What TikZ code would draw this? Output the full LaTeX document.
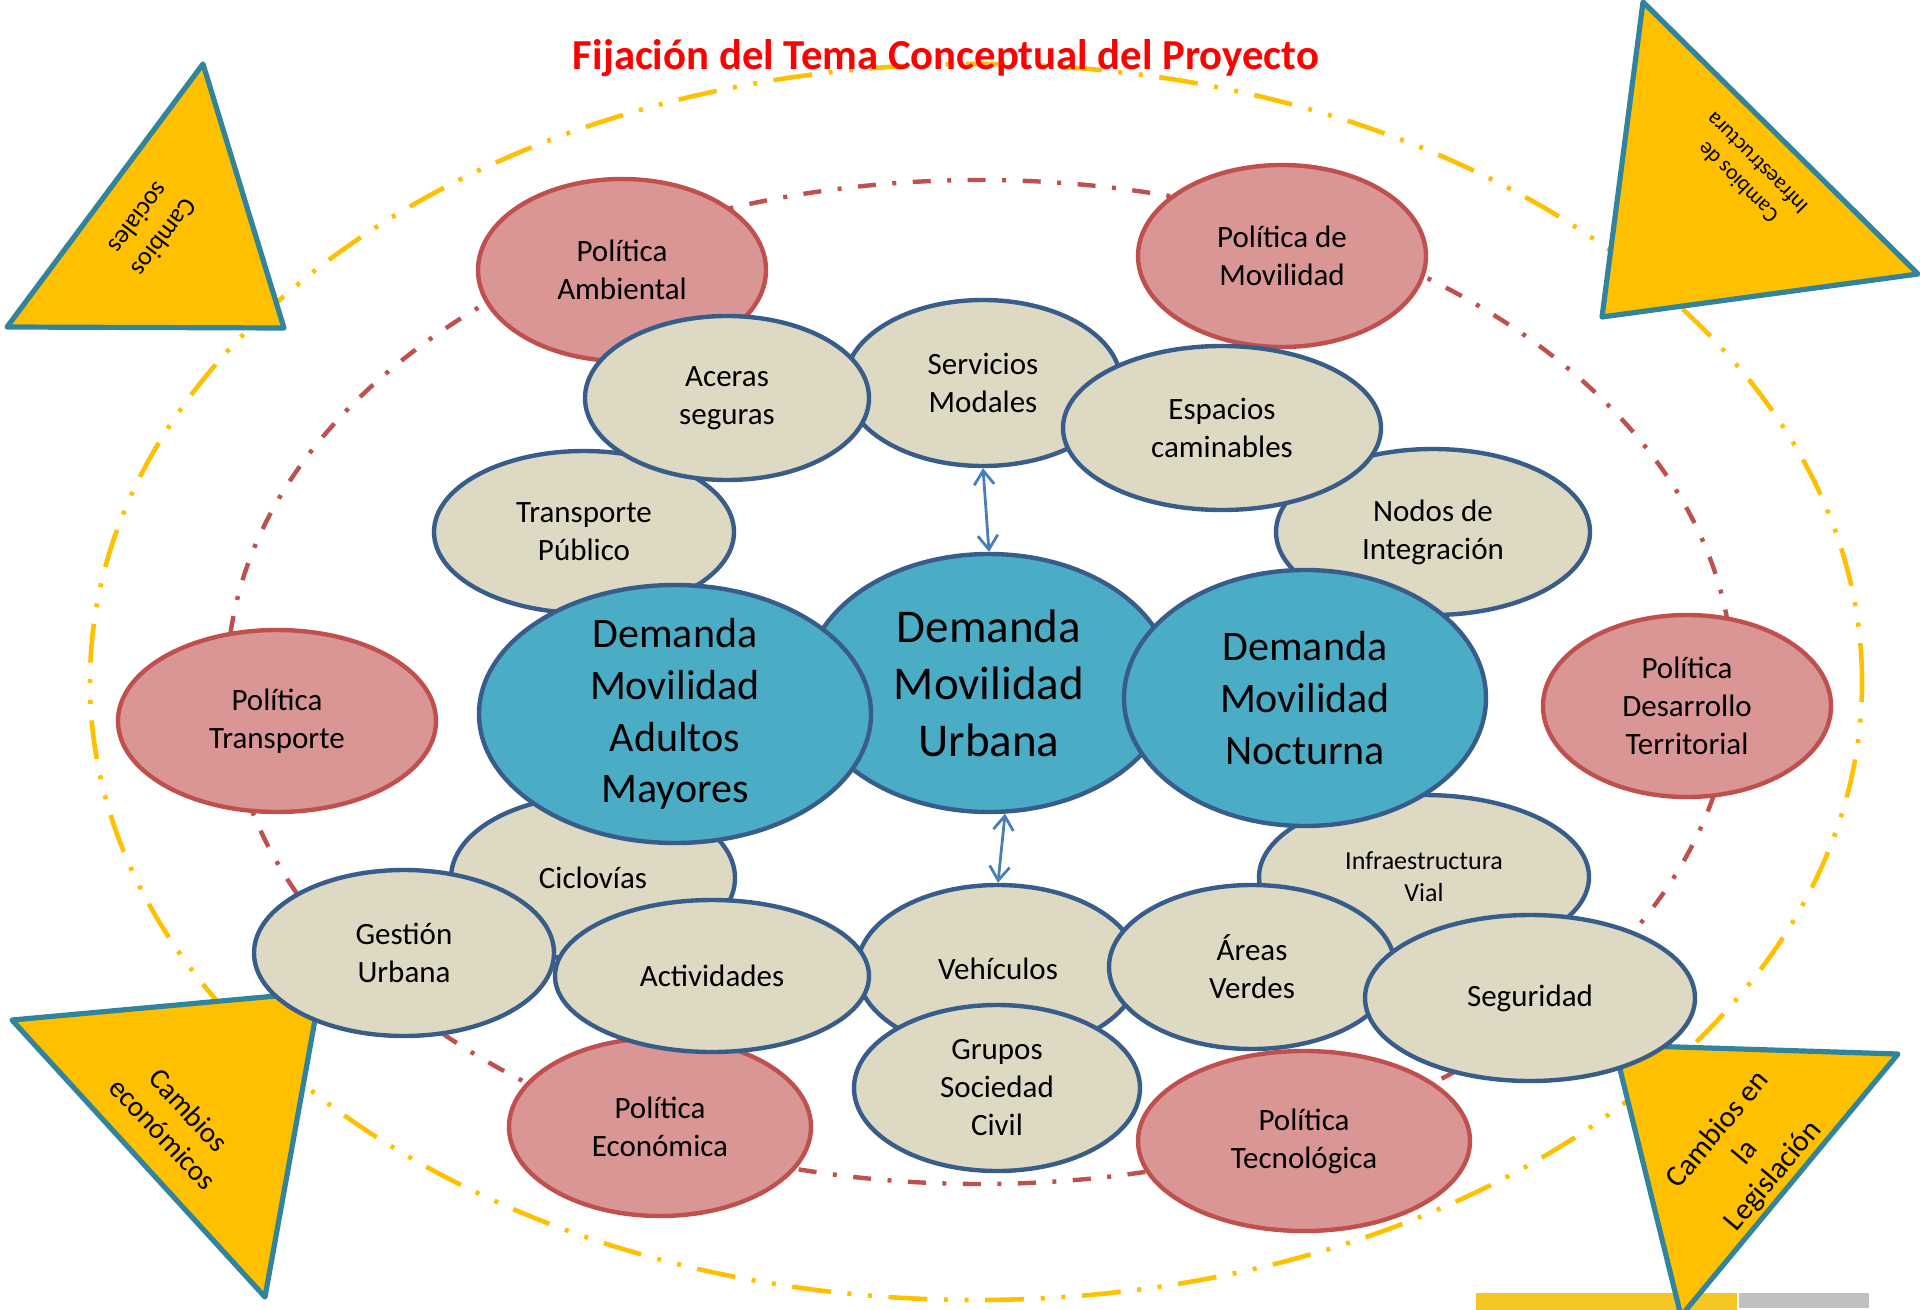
\documentclass[tikz,border=0pt]{standalone}
\usepackage{graphicx}
\usepackage{fontspec}
\setmainfont{Carlito}
\usetikzlibrary{shapes.geometric,arrows.meta}

\definecolor{polfill}{HTML}{D99694}
\definecolor{polline}{HTML}{C0504D}
\definecolor{temafill}{HTML}{DDD9C3}
\definecolor{temaline}{HTML}{385D8A}
\definecolor{demfill}{HTML}{4BACC6}
\definecolor{trifill}{HTML}{FFC000}
\definecolor{triline}{HTML}{31849B}
\definecolor{ringred}{HTML}{C0504D}
\definecolor{ringyellow}{HTML}{FFC000}
\definecolor{flechacol}{HTML}{4A7EBB}
\definecolor{baryellow}{HTML}{F4C724}
\definecolor{bargray}{HTML}{C0C0C0}

\tikzset{
  bubble/.style={ellipse, draw, line width=2.2pt, inner sep=0pt, align=center,
    font=\fontsize{15.5}{19}\selectfont},
  politica/.style={bubble, fill=polfill, draw=polline},
  tema/.style={bubble, fill=temafill, draw=temaline},
  demanda/.style={bubble, fill=demfill, draw=temaline, inner sep=-8pt,
    font=\fontsize{21}{25.8}\selectfont},
  cambio/.style={fill=trifill, draw=triline, line width=2.6pt, line join=round},
  cambiotxt/.style={align=center, font=\fontsize{14.5}{17.5}\selectfont},
  flecha/.style={draw=flechacol, line width=1.4pt, <->, >={Straight Barb[length=7pt,width=10pt]}}
}

\begin{document}
\begin{tikzpicture}[x=0.5pt, y=-0.5pt]
\useasboundingbox (0,0) rectangle (1920,1310);

% Rings
\draw[ringyellow, line width=2.3pt, dash pattern=on 19.5pt off 8.3pt on 2pt off 8.3pt on 2pt off 8.3pt]
  (976,682) ellipse [x radius=443pt, y radius=309pt];
\draw[ringred, line width=2.2pt, dash pattern=on 9pt off 8.25pt on 2pt off 8.25pt]
  (980,682) ellipse [x radius=376.5pt, y radius=251pt];

% Bars
\fill[baryellow] (1476,1293) rectangle (1737,1310);
\fill[bargray] (1739,1293) rectangle (1869,1308);

% Triangles
\filldraw[cambio] (203,64) -- (7,327) -- (284,328) -- cycle;
\node[cambiotxt, rotate=-127, font=\fontsize{13}{16}\selectfont] (tsocial) at (152,228) {Cambios\\sociales};
\filldraw[cambio] (1643,2) -- (1602,317) -- (1918,274) -- cycle;
\node[cambiotxt, rotate=135, font=\fontsize{11}{13.5}\selectfont] (tinfra) at (1747,173) {Cambios de\\Infraestructura};
\filldraw[cambio] (12,1020) -- (320,992) -- (265,1297) -- cycle;
\node[cambiotxt, rotate=-47] (tecon) at (176,1122) {Cambios\\económicos};
\filldraw[cambio] (1614,1045) -- (1898,1054) -- (1681,1316) -- cycle;
\node[cambiotxt, rotate=50, font=\fontsize{15}{18}\selectfont] (tlegis) at (1746,1153) {Cambios en\\la\\Legislación};

% Policies
\node[politica, minimum width=144pt, minimum height=91pt] (pamb) at (622,270) {Política\\Ambiental};
\node[politica, minimum width=144pt, minimum height=91pt] (pmov) at (1282,256) {Política de\\Movilidad};
\node[politica, minimum width=159pt, minimum height=91pt] (ptra) at (277,721) {Política\\Transporte};
\node[politica, minimum width=144pt, minimum height=91pt] (pdes) at (1687,706) {Política\\Desarrollo\\Territorial};
\node[politica, minimum width=151pt, minimum height=89pt] (peco) at (660,1127) {Política\\Económica};
\node[politica, minimum width=166pt, minimum height=90pt] (ptec) at (1304,1141) {Política\\Tecnológica};

% Upper topics
\node[tema, minimum width=150pt, minimum height=81pt] (transp) at (584,532) {Transporte\\Público};
\node[tema, minimum width=157pt, minimum height=83pt] (nodos) at (1433,532) {Nodos de\\Integración};
\node[tema, minimum width=138pt, minimum height=83pt] (servicios) at (983,383) {Servicios\\Modales};
\node[tema, minimum width=142pt, minimum height=82pt] (aceras) at (727,398) {Aceras\\seguras};
\node[tema, minimum width=159pt, minimum height=82pt] (espacios) at (1222,428) {Espacios\\caminables};

% Lower topics behind the demand
\node[tema, minimum width=142pt, minimum height=82pt] (ciclo) at (593,878) {Ciclovías};
\node[tema, minimum width=165pt, minimum height=82pt, font=\fontsize{13}{16}\selectfont] (infra) at (1424,877) {Infraestructura\\Vial};

% Demand
\node[demanda, minimum width=183pt, minimum height=129pt, font=\fontsize{23.5}{28.5}\selectfont] (urbana) at (989,683) {Demanda\\Movilidad\\Urbana};
\node[demanda, minimum width=196pt, minimum height=129pt] (adultos) at (675,714) {Demanda\\Movilidad\\Adultos\\Mayores};
\node[demanda, minimum width=181pt, minimum height=128pt] (nocturna) at (1305,698) {Demanda\\Movilidad\\Nocturna};

% Lower topics
\node[tema, minimum width=141pt, minimum height=84pt] (vehiculos) at (998,969) {Vehículos};
\node[tema, minimum width=150pt, minimum height=83pt] (gestion) at (404,953) {Gestión\\Urbana};
\node[tema, minimum width=157pt, minimum height=76pt] (activ) at (712,976) {Actividades};
\node[tema, minimum width=143pt, minimum height=83pt] (grupos) at (997,1088) {Grupos\\Sociedad\\Civil};
\node[tema, minimum width=143pt, minimum height=82pt] (areas) at (1252,967) {Áreas\\Verdes};
\node[tema, minimum width=165pt, minimum height=83pt] (seguridad) at (1530,998) {Seguridad};

% Links
\draw[flecha] (servicios.south) -- (urbana.north);
\draw[flecha] (urbana.-83) -- (vehiculos.north);

% Title
\node[anchor=base, text=red, font=\bfseries\fontsize{22}{26}\selectfont] (titulo) at (946,70)
  {\resizebox{373pt}{!}{Fijación del Tema Conceptual del Proyecto}};
\end{tikzpicture}
\end{document}
